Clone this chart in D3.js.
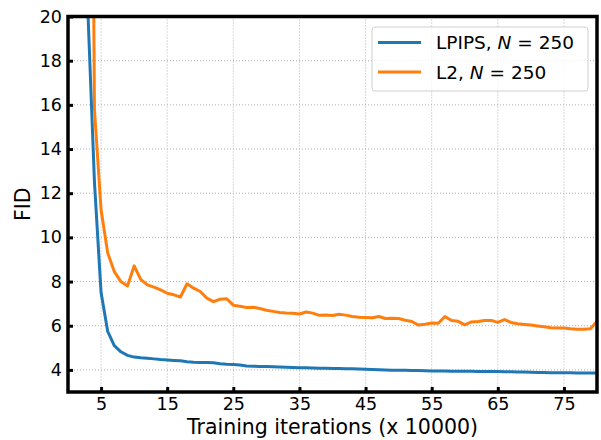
<!DOCTYPE html>
<html>
<head>
<meta charset="utf-8">
<script src="https://cdn.jsdelivr.net/npm/d3@7"></script>
<style>
  body { margin: 0; background: #fff; }
  text { font-family: "DejaVu Sans", sans-serif; fill: #000; }
</style>
</head>
<body>
<div id="gr"></div>
<script>
// training iteration (x 10000)
var iters = d3.range(2, 81);

var lpipsFid = [40, 20.3, 12.5, 7.5, 5.75, 5.1, 4.82, 4.66, 4.58,
  4.55, 4.53, 4.5, 4.47, 4.45, 4.43, 4.41, 4.37, 4.35, 4.34,
  4.33, 4.32, 4.28, 4.26, 4.25, 4.22, 4.18, 4.17, 4.16, 4.15,
  4.14, 4.13, 4.12, 4.11, 4.1, 4.1, 4.09, 4.08, 4.07, 4.06,
  4.06, 4.05, 4.05, 4.04, 4.03, 4.02, 4.01, 4.0, 3.99, 3.98,
  3.98, 3.97, 3.97, 3.96, 3.95, 3.95, 3.95, 3.94, 3.94, 3.94,
  3.94, 3.93, 3.93, 3.93, 3.93, 3.92, 3.92, 3.91, 3.9, 3.89,
  3.88, 3.88, 3.87, 3.87, 3.87, 3.87, 3.86, 3.86, 3.86, 3.86];

var l2Fid = [90, 58, 15.8, 11.25, 9.3, 8.45, 8.0, 7.8, 8.71,
  8.1, 7.85, 7.75, 7.62, 7.47, 7.4, 7.3, 7.9, 7.7, 7.55,
  7.25, 7.09, 7.2, 7.22, 6.93, 6.88, 6.83, 6.84, 6.78, 6.7,
  6.65, 6.6, 6.58, 6.57, 6.53, 6.62, 6.57, 6.47, 6.49, 6.46,
  6.52, 6.48, 6.42, 6.38, 6.37, 6.36, 6.42, 6.33, 6.34, 6.33,
  6.25, 6.19, 6.03, 6.07, 6.12, 6.11, 6.42, 6.24, 6.2, 6.04,
  6.17, 6.19, 6.24, 6.24, 6.15, 6.28, 6.15, 6.09, 6.06, 6.03,
  5.99, 5.95, 5.91, 5.9, 5.9, 5.86, 5.84, 5.84, 5.86, 6.2];

var xTicks = [5, 15, 25, 35, 45, 55, 65, 75];
var yTicks = [4, 6, 8, 10, 12, 14, 16, 18, 20];
var seriesNames = ["LPIPS, ", "L2, "];
var seriesColors = ["#1f77b4", "#ff7f0e"];

var W = 601, H = 440;
var margin = { left: 68, right: 4, top: 16.5, bottom: 48 };
var width = W - margin.left - margin.right,
    height = H - margin.top - margin.bottom;

var svg = d3.select("#gr").append("svg")
  .attr("width", W)
  .attr("height", H);

var g = svg.append("g")
  .attr("transform", "translate(" + margin.left + "," + margin.top + ")");

var xScale = d3.scaleLinear().domain([0, 80]).range([0, width]);
var yScale = d3.scaleLinear().domain([3, 20]).range([height, 0]);

g.append("clipPath").attr("id", "clip")
  .append("rect").attr("width", width).attr("height", height);

// grid
g.append("g").selectAll("line").data(xTicks).enter().append("line")
  .attr("x1", function (d) { return xScale(d); })
  .attr("x2", function (d) { return xScale(d); })
  .attr("y1", 0).attr("y2", height)
  .attr("stroke", "#b0b0b0").attr("stroke-width", 1)
  .attr("stroke-dasharray", "1,2");

g.append("g").selectAll("line").data(yTicks.slice(0, -1)).enter().append("line")
  .attr("x1", 0).attr("x2", width)
  .attr("y1", function (d) { return yScale(d); })
  .attr("y2", function (d) { return yScale(d); })
  .attr("stroke", "#b0b0b0").attr("stroke-width", 1)
  .attr("stroke-dasharray", "1,2");

// lines
var series = [lpipsFid, l2Fid];
var line = d3.line()
  .x(function (d, i) { return xScale(iters[i]); })
  .y(function (d) { return yScale(d); });

var lines = g.append("g").attr("clip-path", "url(#clip)");
series.forEach(function (s, k) {
  lines.append("path")
    .datum(s)
    .attr("d", line)
    .attr("fill", "none")
    .attr("stroke", seriesColors[k])
    .attr("stroke-width", 3)
    .attr("stroke-linejoin", "round")
    .attr("stroke-linecap", "square");
});

// axes, ticks pointing inward
var xAxis = d3.axisBottom(xScale).tickValues(xTicks).tickSize(-5).tickPadding(6);
var yAxis = d3.axisLeft(yScale).tickValues(yTicks).tickSize(-5).tickPadding(6);

var xa = g.append("g")
  .attr("transform", "translate(0," + height + ")")
  .call(xAxis);
var ya = g.append("g").call(yAxis);

[xa, ya].forEach(function (a) {
  a.select(".domain").remove();
  a.selectAll(".tick line").attr("stroke", "#000").attr("stroke-width", 3);
  a.selectAll(".tick text")
    .style("font-family", "DejaVu Sans, sans-serif")
    .style("font-size", "17.5px")
    .attr("fill", "#000");
});

// frame
g.append("rect")
  .attr("width", width).attr("height", height)
  .attr("fill", "none").attr("stroke", "#000").attr("stroke-width", 3.5);

// axis labels
svg.append("text")
  .attr("x", margin.left + width / 2)
  .attr("y", 434)
  .attr("text-anchor", "middle")
  .style("font-size", "20.5px")
  .text("Training iterations (x 10000)");

svg.append("text")
  .attr("transform", "translate(30," + (margin.top + height / 2) + ") rotate(-90)")
  .attr("text-anchor", "middle")
  .style("font-size", "20.5px")
  .text("FID");

// legend
var lg = svg.append("g").attr("transform", "translate(372,27)");
lg.append("rect")
  .attr("width", 216).attr("height", 64).attr("rx", 3)
  .attr("fill", "#fff").attr("fill-opacity", 0.8)
  .attr("stroke", "#d0d0d0").attr("stroke-width", 1);

seriesNames.forEach(function (name, k) {
  var yy = 15.5 + k * 29.5;
  lg.append("line")
    .attr("x1", 6).attr("x2", 49)
    .attr("y1", yy).attr("y2", yy)
    .attr("stroke", seriesColors[k]).attr("stroke-width", 3);
  var t = lg.append("text")
    .attr("x", 64).attr("y", yy + 6.5)
    .style("font-size", "18.5px");
  t.append("tspan").text(name);
  t.append("tspan").style("font-style", "italic").text("N");
  t.append("tspan").text(" = 250");
});
</script>
</body>
</html>
